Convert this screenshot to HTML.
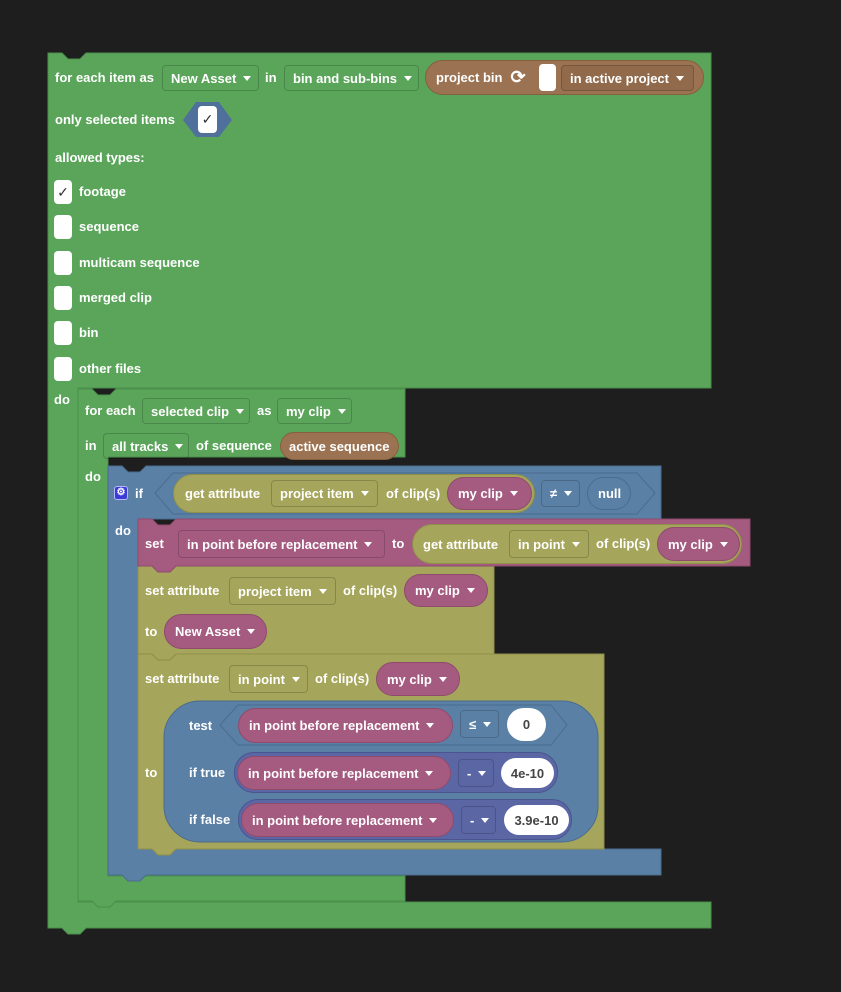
<!DOCTYPE html>
<html><head><meta charset="utf-8"><style>
body{margin:0;width:841px;height:992px;background:#1e1e1e;position:relative;overflow:hidden;font-family:"Liberation Sans",sans-serif;font-weight:bold;font-size:13px;color:#fff}
svg{position:absolute;left:0;top:0}
.t{position:absolute;line-height:16px;white-space:nowrap}
.b{position:absolute;box-sizing:border-box;display:flex;align-items:center;white-space:nowrap;padding-left:8px}
.f{border:1px solid rgba(0,0,0,.18);border-radius:4px}
.p{border-radius:20px}
.dd:after{content:"";display:inline-block;margin-left:7px;border-left:4px solid transparent;border-right:4px solid transparent;border-top:5px solid #fff;vertical-align:2px}
.cb{position:absolute;background:#fff;border-radius:4px;color:#333;font-size:14px;text-align:center;line-height:24px;font-weight:normal}
.w{background:#fff;color:#444;justify-content:center;padding:0}
</style></head><body>
<svg width="841" height="992">
<g stroke-width="1">
<path d="M48,53 H62 l6,6 h12 l6,-6 H711 V388 H78 V902 H711 V928 H86 l-6,6 h-12 l-6,-6 H48 Z" fill="#5ba55b" stroke="#4a8f4a"/>
<path d="M78,389 H92 l6,6 h12 l6,-6 H405 V457 H108 V876 H405 V901 H116 l-6,6 h-12 l-6,-6 H78 Z" fill="#5ba55b" stroke="#4a8f4a"/>
<path d="M108,466 H122 l6,6 h12 l6,-6 H661 V519 H138 V849 H661 V875 H146 l-6,6 h-12 l-6,-6 H108 Z" fill="#5b80a5" stroke="#4a6c8f"/>
<path d="M138,654 H152 l6,6 h12 l6,-6 H604 V849 H176 l-6,6 h-12 l-6,-6 H138 Z" fill="#a5a55b" stroke="#8f8f4a"/>
<path d="M138,566 H152 l6,6 h12 l6,-6 H494 V654 H176 l-6,6 h-12 l-6,-6 H138 Z" fill="#a5a55b" stroke="#8f8f4a"/>
<path d="M138,519 H152 l6,6 h12 l6,-6 H750 V566 H176 l-6,6 h-12 l-6,-6 H138 Z" fill="#a55b80" stroke="#8f4a6c"/>
<polygon points="183,120 196,102 219,102 232,120 219,137 196,137" fill="#4f709a"/>
<polygon points="155,493 173,473 637,473 655,493 637,514 173,514" fill="#5b80a5" stroke="#4a6c8f"/>
<rect x="164" y="701" width="434" height="141" rx="36" fill="#5b80a5" stroke="#4a6c8f"/>
<polygon points="220,725 238,705 551,705 567,725 551,745 238,745" fill="#5b80a5" stroke="#4a6c8f"/>
</g>
</svg>
<!-- row 1 -->
<div class="t" style="left:55px;top:70px">for each item as</div>
<div class="b f dd" style="left:162px;top:65px;width:97px;height:26px">New Asset</div>
<div class="t" style="left:265px;top:70px">in</div>
<div class="b f dd" style="left:284px;top:65px;width:135px;height:26px">bin and sub-bins</div>
<div class="b p" style="left:425px;top:60px;width:279px;height:35px;background:#9c7352;border:1px solid #85603f;padding-left:10px">project bin<span style="font-size:18px;margin-left:8px">⟳</span></div>
<div class="cb" style="left:539px;top:64px;width:17px;height:27px"></div>
<div class="b f dd" style="left:561px;top:65px;width:133px;height:26px;background:#916a4b">in active project</div>
<div class="t" style="left:55px;top:112px">only selected items</div>
<div class="cb" style="left:198px;top:106px;width:19px;height:27px;line-height:27px">✓</div>
<div class="t" style="left:55px;top:150px">allowed types:</div>
<div class="cb" style="left:54px;top:180px;width:18px;height:24px">✓</div><div class="t" style="left:79px;top:184px">footage</div>
<div class="cb" style="left:54px;top:215px;width:18px;height:24px"></div><div class="t" style="left:79px;top:219px">sequence</div>
<div class="cb" style="left:54px;top:251px;width:18px;height:24px"></div><div class="t" style="left:79px;top:255px">multicam sequence</div>
<div class="cb" style="left:54px;top:286px;width:18px;height:24px"></div><div class="t" style="left:79px;top:290px">merged clip</div>
<div class="cb" style="left:54px;top:321px;width:18px;height:24px"></div><div class="t" style="left:79px;top:325px">bin</div>
<div class="cb" style="left:54px;top:357px;width:18px;height:24px"></div><div class="t" style="left:79px;top:361px">other files</div>
<div class="t" style="left:54px;top:392px">do</div>
<!-- for each clip -->
<div class="t" style="left:85px;top:403px">for each</div>
<div class="b f dd" style="left:142px;top:398px;width:108px;height:26px">selected clip</div>
<div class="t" style="left:257px;top:403px">as</div>
<div class="b f dd" style="left:277px;top:398px;width:75px;height:26px">my clip</div>
<div class="t" style="left:85px;top:438px">in</div>
<div class="b f dd" style="left:103px;top:433px;width:86px;height:26px">all tracks</div>
<div class="t" style="left:196px;top:438px">of sequence</div>
<div class="b p" style="left:280px;top:432px;width:119px;height:28px;background:#9c7352;border:1px solid #85603f">active sequence</div>
<div class="t" style="left:85px;top:469px">do</div>
<!-- if -->
<div style="position:absolute;left:114px;top:486px;width:14px;height:14px;background:#3b3bd6;border-radius:3px;border:1px solid #b8b8ff;box-sizing:border-box;color:#fff;font-size:10px;line-height:12px;text-align:center">⚙</div>
<div class="t" style="left:135px;top:486px">if</div>
<div class="b p" style="left:173px;top:474px;width:362px;height:39px;background:#a5a55b;border:1px solid #8f8f4a;padding-left:11px">get attribute</div>
<div class="b f dd" style="left:271px;top:480px;width:107px;height:27px">project item</div>
<div class="t" style="left:386px;top:486px">of clip(s)</div>
<div class="b p dd" style="left:447px;top:477px;width:85px;height:33px;background:#a55b80;border:1px solid #8f4a6c;padding-left:10px">my clip</div>
<div class="b f dd" style="left:541px;top:480px;width:39px;height:27px">≠</div>
<div class="b p" style="left:587px;top:477px;width:44px;height:33px;border:1px solid #4a6c8f;padding-left:10px">null</div>
<div class="t" style="left:115px;top:523px">do</div>
<!-- set -->
<div class="t" style="left:145px;top:536px">set</div>
<div class="b f dd" style="left:178px;top:530px;width:207px;height:28px">in point before replacement</div>
<div class="t" style="left:392px;top:536px">to</div>
<div class="b p" style="left:412px;top:524px;width:330px;height:40px;background:#a5a55b;border:1px solid #8f8f4a;padding-left:10px">get attribute</div>
<div class="b f dd" style="left:509px;top:530px;width:80px;height:28px">in point</div>
<div class="t" style="left:596px;top:536px">of clip(s)</div>
<div class="b p dd" style="left:657px;top:527px;width:83px;height:34px;background:#a55b80;border:1px solid #8f4a6c;padding-left:10px">my clip</div>
<!-- set attribute 1 -->
<div class="t" style="left:145px;top:583px">set attribute</div>
<div class="b f dd" style="left:229px;top:577px;width:107px;height:28px">project item</div>
<div class="t" style="left:343px;top:583px">of clip(s)</div>
<div class="b p dd" style="left:404px;top:574px;width:84px;height:33px;background:#a55b80;border:1px solid #8f4a6c;padding-left:10px">my clip</div>
<div class="t" style="left:145px;top:624px">to</div>
<div class="b p dd" style="left:164px;top:614px;width:103px;height:35px;background:#a55b80;border:1px solid #8f4a6c;padding-left:10px">New Asset</div>
<!-- set attribute 2 -->
<div class="t" style="left:145px;top:671px">set attribute</div>
<div class="b f dd" style="left:229px;top:665px;width:79px;height:28px">in point</div>
<div class="t" style="left:315px;top:671px">of clip(s)</div>
<div class="b p dd" style="left:376px;top:662px;width:84px;height:34px;background:#a55b80;border:1px solid #8f4a6c;padding-left:10px">my clip</div>
<div class="t" style="left:145px;top:765px">to</div>
<div class="t" style="left:189px;top:718px">test</div>
<div class="b p dd" style="left:238px;top:708px;width:215px;height:35px;background:#a55b80;border:1px solid #8f4a6c;padding-left:10px">in point before replacement</div>
<div class="b f dd" style="left:460px;top:710px;width:39px;height:28px">≤</div>
<div class="b p w" style="left:507px;top:708px;width:39px;height:33px">0</div>
<div class="t" style="left:189px;top:765px">if true</div>
<div class="b p" style="left:234px;top:752px;width:324px;height:41px;background:#5b67a5;border:1px solid #4a558f"></div>
<div class="b p dd" style="left:237px;top:756px;width:214px;height:34px;background:#a55b80;border:1px solid #8f4a6c;padding-left:10px">in point before replacement</div>
<div class="b f dd" style="left:458px;top:759px;width:36px;height:28px">-</div>
<div class="b p w" style="left:501px;top:758px;width:53px;height:30px">4e-10</div>
<div class="t" style="left:189px;top:812px">if false</div>
<div class="b p" style="left:238px;top:799px;width:334px;height:41px;background:#5b67a5;border:1px solid #4a558f"></div>
<div class="b p dd" style="left:241px;top:803px;width:213px;height:34px;background:#a55b80;border:1px solid #8f4a6c;padding-left:10px">in point before replacement</div>
<div class="b f dd" style="left:461px;top:806px;width:35px;height:28px">-</div>
<div class="b p w" style="left:504px;top:805px;width:65px;height:30px">3.9e-10</div>
</body></html>
